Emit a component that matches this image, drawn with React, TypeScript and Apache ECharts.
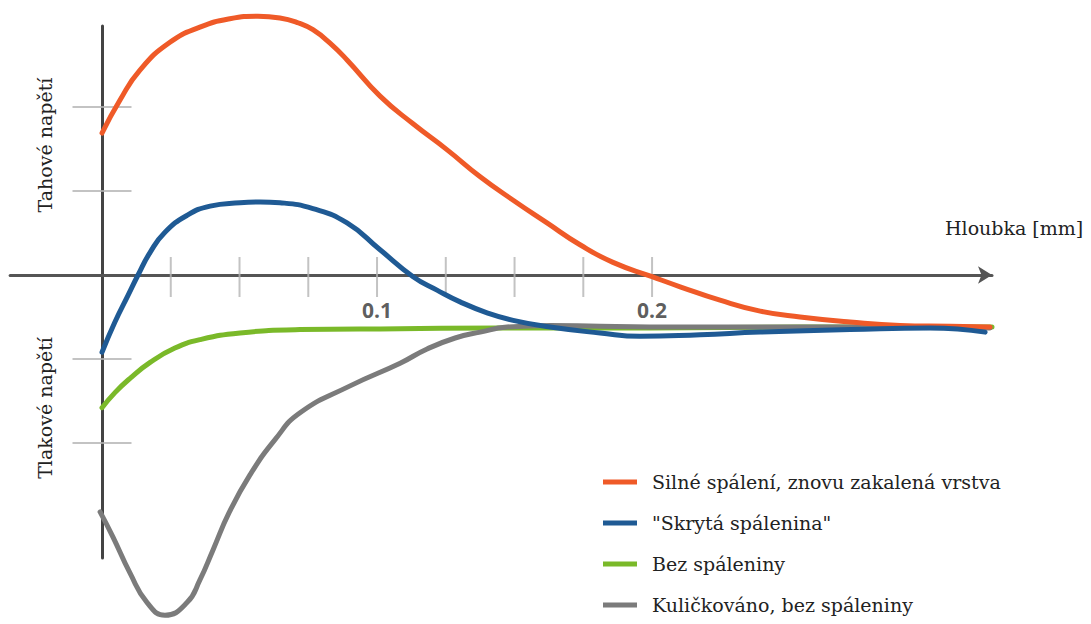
import React, { useEffect, useRef } from "react";
import * as echarts from "echarts";

// Depth [mm] / stress (in tick units)
const orangeX = [0, 0.0065, 0.0138, 0.0247, 0.0356, 0.0465, 0.0567, 0.0647, 0.0715, 0.0767, 0.0829, 0.0891, 0.1011, 0.1131, 0.1255, 0.1375, 0.1495, 0.1618, 0.1738, 0.1858, 0.2, 0.2102, 0.2247, 0.2393, 0.2538, 0.272, 0.2902, 0.3084, 0.3229];
const orangeY = [1.69, 2.08, 2.44, 2.77, 2.95, 3.05, 3.08, 3.06, 3.0, 2.92, 2.76, 2.56, 2.13, 1.8, 1.49, 1.17, 0.89, 0.62, 0.36, 0.15, -0.02, -0.14, -0.3, -0.43, -0.5, -0.56, -0.6, -0.61, -0.62];

const blueX = [0, 0.0047, 0.0095, 0.0131, 0.0175, 0.0229, 0.0309, 0.0393, 0.0502, 0.0575, 0.0647, 0.0767, 0.0891, 0.1011, 0.1131, 0.1218, 0.1302, 0.14, 0.1495, 0.1629, 0.1811, 0.1956, 0.2175, 0.2393, 0.272, 0.3011, 0.3211];
const blueY = [-0.92, -0.56, -0.24, 0, 0.27, 0.51, 0.71, 0.82, 0.86, 0.87, 0.86, 0.79, 0.62, 0.3, -0.02, -0.18, -0.32, -0.45, -0.54, -0.62, -0.69, -0.73, -0.71, -0.68, -0.65, -0.63, -0.68];

const greenX = [0, 0.0047, 0.0102, 0.0175, 0.0265, 0.0356, 0.0502, 0.072, 0.1084, 0.1447, 0.1993, 0.2538, 0.3236];
const greenY = [-1.58, -1.4, -1.23, -1.04, -0.87, -0.77, -0.69, -0.65, -0.64, -0.63, -0.63, -0.62, -0.62];

const grayX = [-0.0007, 0.004, 0.0102, 0.0164, 0.0229, 0.0309, 0.0356, 0.0404, 0.0462, 0.0538, 0.0629, 0.072, 0.0902, 0.1084, 0.1182, 0.1284, 0.1375, 0.1473, 0.1629, 0.1811, 0.2175, 0.272, 0.3229];
const grayY = [-2.82, -3.12, -3.55, -3.9, -4.05, -3.9, -3.63, -3.27, -2.83, -2.38, -1.96, -1.64, -1.32, -1.05, -0.88, -0.75, -0.68, -0.62, -0.6, -0.61, -0.62, -0.62, -0.63];

const seriesNames = [
  "Silné spálení, znovu zakalená vrstva",
  "\"Skrytá spálenina\"",
  "Bez spáleniny",
  "Kuličkováno, bez spáleniny",
];

const xTickValues = [0.025, 0.05, 0.075, 0.1, 0.125, 0.15, 0.175, 0.2];
const xLabelValues = [0.1, 0.2];
const yTickValues = [-2, -1, 1, 2];

const xAxisName = "Hloubka [mm]";
const yUpperName = "Tahové napětí";
const yLowerName = "Tlakové napětí";

const zip = (xs: number[], ys: number[]) => xs.map((x, i) => [x, ys[i]]);

export default function App() {
  const ref = useRef<HTMLDivElement>(null);
  useEffect(() => {
    if (!ref.current) return;
    const chart = echarts.init(ref.current, undefined, { renderer: "svg" });
    const serif = "DejaVu Serif";
    const serifSize = 19;
    const lineBase = (name: string, color: string, data: number[][], z: number) => ({
      name,
      type: "line",
      data,
      smooth: 0.5,
      showSymbol: false,
      symbol: "none",
      clip: false,
      z,
      lineStyle: { color, width: 5, cap: "round", join: "round" },
      itemStyle: { color },
    });
    const textEl = (text: string, x: number, y: number, rotated: boolean) => ({
      type: "text",
      x,
      y,
      rotation: rotated ? Math.PI / 2 : 0,
      style: {
        text,
        fontFamily: serif,
        fontSize: serifSize,
        fill: "#222222",
        align: rotated ? "center" : "left",
        verticalAlign: "middle",
      },
    });
    chart.setOption({
      animation: false,
      backgroundColor: "#ffffff",
      grid: { left: 10.15, right: 99, top: 26, bottom: 66 },
      xAxis: {
        type: "value",
        min: -0.0334,
        max: 0.3236,
        splitLine: { show: false },
        axisTick: { show: false },
        axisLabel: { show: false },
        axisLine: {
          show: true,
          onZero: true,
          lineStyle: { color: "#555555", width: 3 },
          symbol: ["none", "arrow"],
          symbolSize: [13, 14],
        },
      },
      yAxis: {
        type: "value",
        min: -3.369,
        max: 2.9643,
        splitLine: { show: false },
        axisTick: { show: false },
        axisLabel: { show: false },
        axisLine: { show: true, onZero: true, lineStyle: { color: "#444444", width: 3 } },
      },
      legend: {
        orient: "vertical",
        left: 603,
        top: 471.5,
        padding: 0,
        itemWidth: 34,
        itemHeight: 5,
        itemGap: 20,
        icon: "rect",
        data: seriesNames,
        textStyle: {
          fontFamily: serif,
          fontSize: serifSize,
          lineHeight: 21,
          color: "#222222",
          padding: [0, 0, 0, 10],
        },
      },
      graphic: [
        textEl(xAxisName, 945, 228, false),
        textEl(yUpperName, 45, 145, true),
        textEl(yLowerName, 45, 408, true),
      ],
      series: [
        {
          type: "scatter",
          symbol: "rect",
          symbolSize: [2, 40],
          symbolOffset: [0, 2],
          silent: true,
          z: 1,
          itemStyle: { color: "#b4b4b4" },
          data: xTickValues.map((v) => [v, 0]),
        },
        {
          type: "scatter",
          symbol: "rect",
          symbolSize: [59, 2],
          silent: true,
          z: 1,
          itemStyle: { color: "#b4b4b4" },
          data: yTickValues.map((v) => [0, v]),
        },
        {
          type: "scatter",
          symbol: "circle",
          symbolSize: 2,
          silent: true,
          z: 1,
          itemStyle: { color: "rgba(0,0,0,0)" },
          data: xLabelValues.map((v) => [v, 0]),
          label: {
            show: true,
            position: "bottom",
            distance: 23,
            formatter: (p: any) => p.value[0].toFixed(1),
            fontFamily: "Open Sans",
            fontWeight: "bold",
            fontSize: 21,
            color: "#333333",
          },
        },
        lineBase(seriesNames[2], "#7ab929", zip(greenX, greenY), 3),
        lineBase(seriesNames[3], "#7b7b7b", zip(grayX, grayY), 4),
        lineBase(seriesNames[0], "#ef5a28", zip(orangeX, orangeY), 5),
        lineBase(seriesNames[1], "#1f5a94", zip(blueX, blueY), 6),
      ],
    });
    return () => chart.dispose();
  }, []);
  return (
    <div
      ref={ref}
      style={{ position: "fixed", left: 0, top: 0, width: 1091, height: 624 }}
    />
  );
}
